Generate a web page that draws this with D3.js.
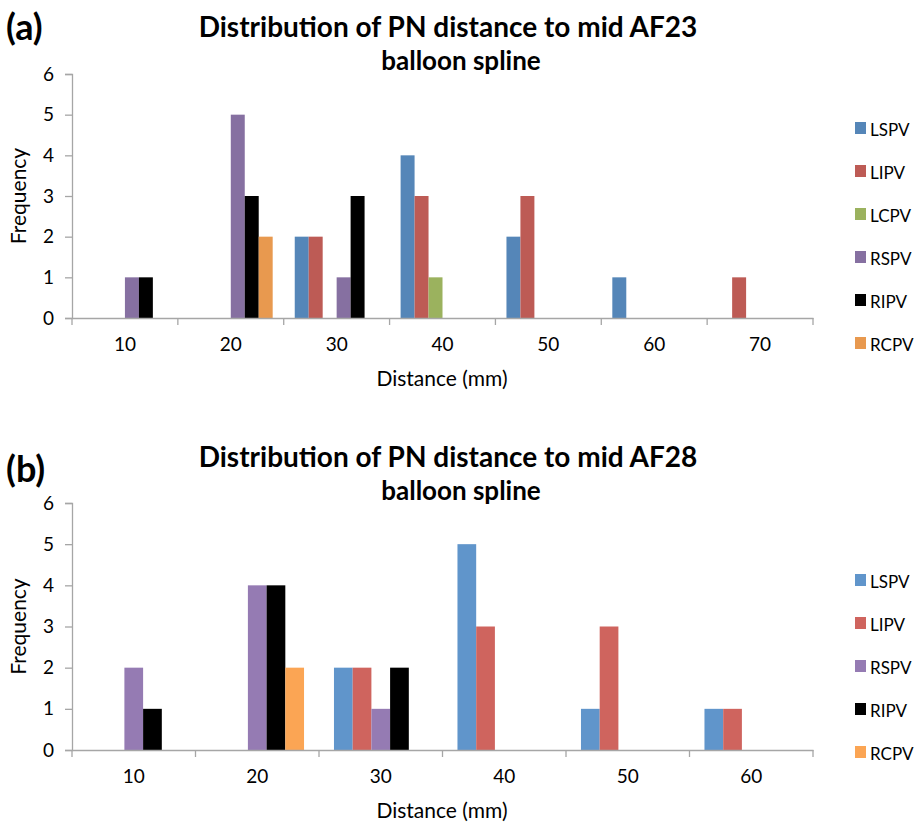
<!DOCTYPE html>
<html>
<head>
<meta charset="utf-8">
<script src="https://cdn.jsdelivr.net/npm/d3@7"></script>
<style>
  html, body { margin: 0; padding: 0; background: #fff; }
  svg { display: block; }
  text { font-family: Lato, "Open Sans", sans-serif; fill: #000; }
</style>
</head>
<body>
<svg id="chart" width="917" height="823"></svg>
<script>
// ---- Data: chart (a) AF23 ----
const catsA = ["10", "20", "30", "40", "50", "60", "70"];
const seriesA = ["LSPV", "LIPV", "LCPV", "RSPV", "RIPV", "RCPV"];
const LSPV_A = [0, 0, 2, 4, 2, 1, 0];
const LIPV_A = [0, 0, 2, 3, 3, 0, 1];
const LCPV_A = [0, 0, 0, 1, 0, 0, 0];
const RSPV_A = [1, 5, 1, 0, 0, 0, 0];
const RIPV_A = [1, 3, 3, 0, 0, 0, 0];
const RCPV_A = [0, 2, 0, 0, 0, 0, 0];
const colorsA = ["#5586b8", "#bd5b55", "#9bb25e", "#8670a1", "#000000", "#e8994f"];

// ---- Data: chart (b) AF28 ----
const catsB = ["10", "20", "30", "40", "50", "60"];
const seriesB = ["LSPV", "LIPV", "RSPV", "RIPV", "RCPV"];
const LSPV_B = [0, 0, 2, 5, 1, 1];
const LIPV_B = [0, 0, 2, 3, 3, 1];
const RSPV_B = [2, 4, 1, 0, 0, 0];
const RIPV_B = [1, 4, 2, 0, 0, 0];
const RCPV_B = [0, 2, 0, 0, 0, 0];
const colorsB = ["#6095cb", "#cf645e", "#957bb3", "#000000", "#fba554"];

const yTicks = [0, 1, 2, 3, 4, 5, 6];

const svg = d3.select("#chart");

function drawChart(cfg) {
  const g = svg.append("g");
  const x0 = d3.scaleBand().domain(cfg.cats).range([cfg.left, cfg.right]).paddingInner(0).paddingOuter(0);
  const x1 = d3.scaleBand().domain(cfg.series).range([0, x0.bandwidth()]).paddingOuter(cfg.outerPad).paddingInner(0);
  const y = d3.scaleLinear().domain([0, 6]).range([cfg.bottom, cfg.top]);

  // title
  g.append("text").attr("x", 448).attr("y", cfg.titleY).attr("text-anchor", "middle")
    .style("font-size", "28px").style("font-weight", "bold").text(cfg.title1);
  g.append("text").attr("x", 461).attr("y", cfg.titleY + 33).attr("text-anchor", "middle")
    .style("font-size", "26px").style("font-weight", "bold").text(cfg.title2);
  g.append("text").attr("x", 6).attr("y", cfg.panelY).style("font-size", "36px")
    .style("font-weight", "bold").text(cfg.panel);

  // bars
  cfg.series.forEach((s, si) => {
    const vals = cfg.values[si];
    g.append("g").selectAll("rect").data(cfg.cats.map((c, i) => ({ c, v: vals[i] })).filter(d => d.v > 0))
      .join("rect")
      .attr("x", d => x0(d.c) + x1(s))
      .attr("y", d => y(d.v))
      .attr("width", x1.bandwidth())
      .attr("height", d => y(0) - y(d.v))
      .attr("fill", cfg.colors[si]);
  });

  // y axis
  const yAxis = g.append("g").attr("transform", `translate(${cfg.left},0)`)
    .call(d3.axisLeft(y).tickValues(yTicks).tickSize(7).tickPadding(11).tickFormat(d3.format("d")));
  yAxis.select(".domain").attr("stroke", "#a6a6a6").attr("stroke-width", 1.3);
  yAxis.selectAll(".tick line").attr("stroke", "#a6a6a6").attr("stroke-width", 1.3);
  yAxis.selectAll(".tick text").style("font-size", "19px").style("font-family", "Lato, sans-serif").attr("fill", "#000");

  // x axis: line + boundary ticks
  const xAxis = g.append("g").attr("transform", `translate(0,${cfg.bottom})`)
    .call(d3.axisBottom(x0).tickSize(0).tickPadding(20));
  xAxis.select(".domain").attr("stroke", "#a6a6a6").attr("stroke-width", 1.5);
  xAxis.selectAll(".tick text").style("font-size", "19px").style("font-family", "Lato, sans-serif").attr("fill", "#000");
  const bounds = cfg.cats.map(c => x0(c)).concat([x0(cfg.cats[cfg.cats.length - 1]) + x0.bandwidth()]);
  xAxis.append("g").selectAll("line").data(bounds).join("line")
    .attr("x1", d => d).attr("x2", d => d).attr("y1", 0).attr("y2", 7)
    .attr("stroke", "#a6a6a6").attr("stroke-width", 1.3);

  // axis titles
  g.append("text").attr("x", 442).attr("y", cfg.bottom + 68).attr("text-anchor", "middle")
    .style("font-size", "21px").text("Distance (mm)");
  g.append("text").attr("transform", `translate(26,${(cfg.top + cfg.bottom) / 2}) rotate(-90)`)
    .attr("text-anchor", "middle").style("font-size", "21px").text("Frequency");

  // legend
  const lg = g.append("g");
  cfg.series.forEach((s, i) => {
    const yy = cfg.legendY + i * 43;
    lg.append("rect").attr("x", 855).attr("y", yy - 7).attr("width", 11).attr("height", 12).attr("fill", cfg.colors[i]);
    lg.append("text").attr("x", 870).attr("y", yy + 7).style("font-size", "17px").text(s);
  });
}

drawChart({
  cats: catsA, series: seriesA,
  values: [LSPV_A, LIPV_A, LCPV_A, RSPV_A, RIPV_A, RCPV_A],
  colors: colorsA, left: 72, right: 813, top: 74, bottom: 318, outerPad: 0.79,
  title1: "Distribution of PN distance to mid AF23", title2: "balloon spline",
  titleY: 37, panel: "(a)", panelY: 40, legendY: 129
});

drawChart({
  cats: catsB, series: seriesB,
  values: [LSPV_B, LIPV_B, RSPV_B, RIPV_B, RCPV_B],
  colors: colorsB, left: 72, right: 813, top: 503, bottom: 750, outerPad: 0.8,
  title1: "Distribution of PN distance to mid AF28", title2: "balloon spline",
  titleY: 467, panel: "(b)", panelY: 482, legendY: 581
});
</script>
</body>
</html>
